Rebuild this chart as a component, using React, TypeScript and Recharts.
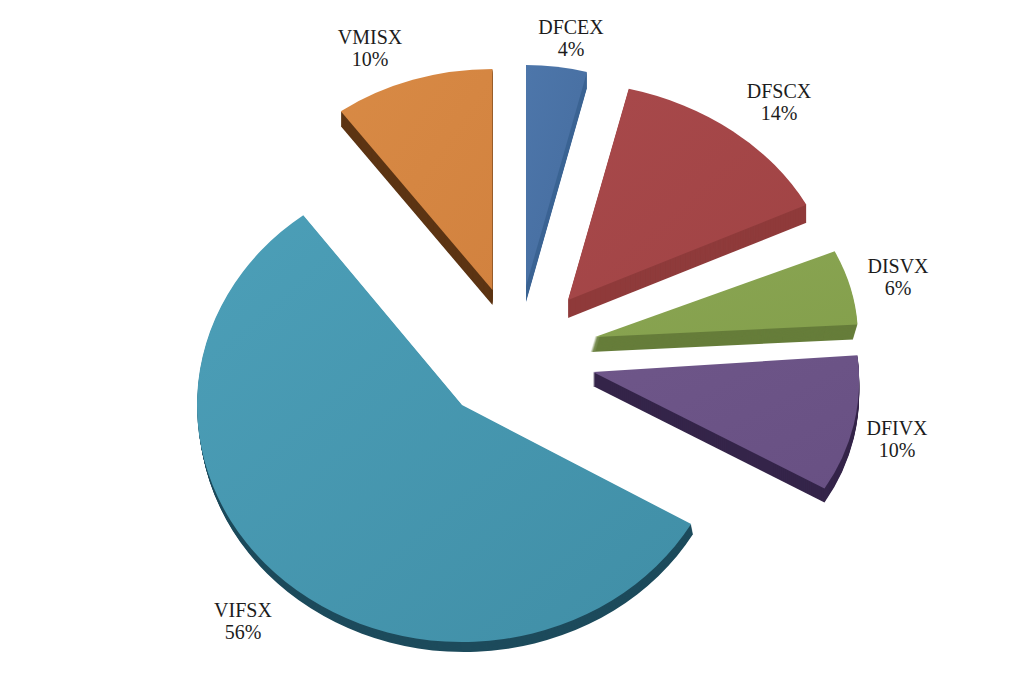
import { Pie, PieChart, Sector } from "recharts";

const funds = ["VMISX", "DFCEX", "DFSCX", "DISVX", "DFIVX", "VIFSX"];
const shares = [10, 4, 13.8, 5.8, 10, 56.4];

const faceFrom = ["#d88a45", "#4d76aa", "#a8494b", "#8aa553", "#6e5689", "#4c9fb8"];
const faceTo = ["#d2823f", "#456c9e", "#a04344", "#84a04c", "#685083", "#408ea6"];
const wallColors = ["#5c3413", "#3c6494", "#8f3b3b", "#667d3a", "#35254a", "#1d4b5c"];

// where each exploded slice sits, and how the tilted disc squashes it
const apexes = [
  [492.5, 290],
  [526, 286],
  [568, 300],
  [595, 337],
  [593, 372],
  [462, 405],
];
const radii = [
  [258, 221],
  [245, 221],
  [268, 218],
  [263, 208],
  [266, 222],
  [265, 237],
];
const depths = [15, 16, 18, 15, 14, 10];
const nudges = [0, 0, 0, -1.6, -0.7, 0.8];
const skews = [0, 0, 1.6, 0, 2.5, 0];
const wallDrift = [0, 0, 0, -0.3, 0, 0.2];
const labelSpots = [
  [370, 44],
  [571, 34],
  [779, 98],
  [898, 273],
  [897, 435],
  [243, 617],
];

const data = funds.map((name, i) => ({ name, value: shares[i] }));
const BASE_R = 100;

const SliceShape = (props: any) => {
  const i = funds.indexOf(props.name ?? props.payload?.name);
  const [ax, ay] = apexes[i];
  const [rx, ry] = radii[i];
  const start = props.startAngle + nudges[i];
  const end = props.endAngle + nudges[i];
  const layers = [];
  for (let d = depths[i]; d > 0; d--) {
    layers.push(d);
  }
  const squash = `skewX(${skews[i]}) scale(${rx / BASE_R} ${ry / BASE_R})`;
  const sector = { cx: 0, cy: 0, innerRadius: 0, outerRadius: BASE_R, startAngle: start, endAngle: end };
  return (
    <g>
      {layers.map((d) => (
        <g key={d} transform={`translate(${ax + d * wallDrift[i]} ${ay + d}) ${squash}`}>
          <Sector {...sector} fill={wallColors[i]} />
        </g>
      ))}
      <g transform={`translate(${ax} ${ay}) ${squash}`}>
        <Sector {...sector} fill={`url(#face${i})`} />
      </g>
    </g>
  );
};

const SliceLabel = (props: any) => {
  const i = funds.indexOf(props.name);
  const [x, y] = labelSpots[i];
  return (
    <text x={x} y={y} textAnchor="middle" fontFamily="'Liberation Serif'" fontSize={20} fill="#1c1c1c">
      <tspan x={x}>{props.name}</tspan>
      <tspan x={x} dy={21.5}>{`${Math.round(shares[i])}%`}</tspan>
    </text>
  );
};

export default function App() {
  return (
    <div style={{ position: "absolute", left: 0, top: 0 }}>
      <PieChart width={1024} height={682} margin={{ top: 0, right: 0, bottom: 0, left: 0 }}>
        <defs>
          {funds.map((name, i) => (
            <linearGradient key={name} id={`face${i}`} x1="0" y1="0" x2="1" y2="1">
              <stop offset="0%" stopColor={faceFrom[i]} />
              <stop offset="100%" stopColor={faceTo[i]} />
            </linearGradient>
          ))}
        </defs>
        <Pie
          data={data}
          dataKey="value"
          nameKey="name"
          cx={462}
          cy={405}
          outerRadius={BASE_R}
          startAngle={126}
          endAngle={-234}
          stroke="none"
          shape={SliceShape}
          label={SliceLabel}
          labelLine={false}
          isAnimationActive={false}
        />
      </PieChart>
    </div>
  );
}
